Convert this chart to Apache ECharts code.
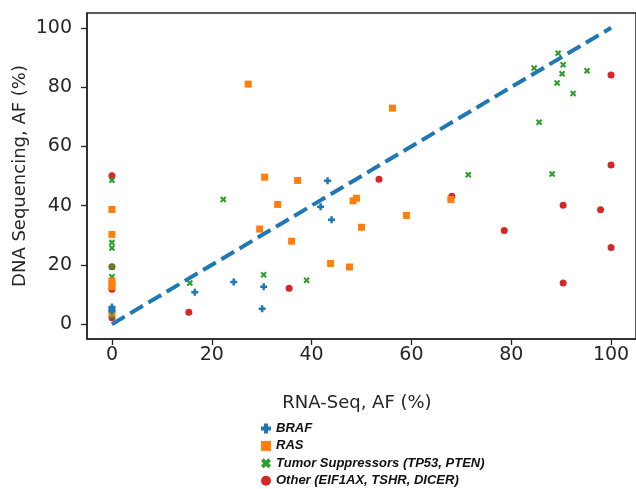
<!DOCTYPE html>
<html>
<head>
<meta charset="utf-8">
<script src="https://cdn.jsdelivr.net/npm/echarts@6/dist/echarts.min.js"></script>
<style>html,body{margin:0;padding:0;background:#fff}#c{width:636px;height:489px}</style>
</head>
<body>
<div id="c"></div>
<script>
// ---- data (RNA-Seq AF %, DNA Sequencing AF %) ----
var brafData = [[0,5.8],[0,5.0],[0,4.4],[16.6,10.8],[24.4,14.2],[30.1,5.2],[30.4,12.6],[41.8,39.6],[43.2,48.4],[44.0,35.2]];
var rasData = [[0,38.7],[0,30.3],[0,14.5],[0,13.5],[0,12.6],[0,3.8],[27.3,81.0],[29.6,32.1],[30.6,49.6],[33.2,40.4],[36.0,28.0],[37.2,48.5],[43.8,20.5],[47.6,19.3],[48.3,41.6],[49.0,42.5],[50.0,32.7],[56.2,72.9],[59.0,36.7],[67.9,42.1]];
var tumorData = [[0,48.6],[0,27.6],[0,25.7],[0,19.4],[0,16.0],[0,2.8],[15.6,13.9],[22.3,42.1],[30.4,16.7],[39.0,14.8],[71.4,50.4],[84.6,86.4],[85.6,68.1],[88.2,50.7],[89.2,81.4],[89.4,91.4],[90.2,84.5],[90.4,87.5],[92.4,77.8],[95.2,85.5]];
var otherData = [[0,50.1],[0,19.4],[0,11.8],[0,2.2],[15.4,4.0],[35.5,12.1],[53.5,48.9],[68.1,43.2],[78.6,31.6],[90.4,40.1],[90.4,13.9],[97.9,38.6],[100,84.1],[100,53.7],[100,25.9]];
var identityLine = [[0,0],[100,100]];
var tickValues = [0,20,40,60,80,100];
var seriesNames = ['BRAF','RAS','Tumor Suppressors (TP53, PTEN)','Other (EIF1AX, TSHR, DICER)'];
var xTitle = 'RNA-Seq, AF (%)';
var yTitle = 'DNA Sequencing, AF (%)';

var plusPath = 'path://M3.2,0L6.8,0L6.8,3.2L10,3.2L10,6.8L6.8,6.8L6.8,10L3.2,10L3.2,6.8L0,6.8L0,3.2L3.2,3.2Z';
var xPath = 'path://M2.3,0L5,2.7L7.7,0L10,2.3L7.3,5L10,7.7L7.7,10L5,7.3L2.3,10L0,7.7L2.7,5L0,2.3Z';
var plusBlob = 'path://M3,0L7,0L7,3L10,3L10,7L7,7L7,10L3,10L3,7L0,7L0,3L3,3Z';
var xBlob = 'path://M2.6,0L5,2.2L7.4,0L10,2.6L7.8,5L10,7.4L7.4,10L5,7.8L2.6,10L0,7.4L2.2,5L0,2.6Z';
var colors = {braf:'#1f77b4', ras:'#ff7f0e', tumor:'#2ca02c', other:'#d62728'};
var axisColor = '#262626';
var font = 'DejaVu Sans';

var chart = echarts.init(document.getElementById('c'), null, {renderer:'canvas'});
function axis(){
  return {
    type:'value', min:-5, max:105,
    axisLine:{show:true, onZero:false, lineStyle:{color:axisColor, width:1.5}},
    axisTick:{show:true, customValues:tickValues, length:6, lineStyle:{color:axisColor, width:1.3}},
    axisLabel:{customValues:tickValues, color:axisColor, fontFamily:font, fontSize:19, margin:8},
    splitLine:{show:false}
  };
}
var xa = axis(); xa.axisLabel.margin = 7;
var ya = axis(); ya.axisLabel.margin = 15;
chart.setOption({
  animation:false,
  backgroundColor:'#fff',
  grid:{left:87, top:13, right:-3, bottom:150, show:true, borderColor:axisColor, borderWidth:1.5, backgroundColor:'transparent'},
  xAxis:xa,
  yAxis:ya,
  legend:{
    orient:'vertical', left:256, top:417, height:90, itemWidth:10, itemHeight:10, itemGap:4.4,
    data:[
      {name:seriesNames[0], icon:plusBlob},
      {name:seriesNames[1], icon:'rect'},
      {name:seriesNames[2], icon:xBlob},
      {name:seriesNames[3], icon:'circle'}
    ],
    textStyle:{color:'#111', fontFamily:'Liberation Sans', fontSize:13, fontWeight:'bold', fontStyle:'italic', lineHeight:13}
  },
  graphic:[
    {type:'text', x:357, y:403, style:{text:xTitle, font:'18px "DejaVu Sans"', fill:axisColor, textAlign:'center', textVerticalAlign:'middle'}},
    {type:'text', x:20, y:176, rotation:Math.PI/2, style:{text:yTitle, font:'18px "DejaVu Sans"', fill:axisColor, textAlign:'center', textVerticalAlign:'middle'}}
  ],
  series:[
    {name:seriesNames[3], type:'scatter', data:otherData, symbol:'circle', symbolSize:7, itemStyle:{color:colors.other, opacity:1}},
    {name:seriesNames[2], type:'scatter', data:tumorData, symbol:xPath, symbolSize:6.5, itemStyle:{color:colors.tumor, opacity:1}},
    {name:seriesNames[1], type:'scatter', data:rasData, symbol:'rect', symbolSize:7, itemStyle:{color:colors.ras, opacity:1}},
    {name:seriesNames[0], type:'scatter', data:brafData, symbol:plusPath, symbolSize:7, itemStyle:{color:colors.braf, opacity:1}},
    {type:'line', data:identityLine, symbol:'none', silent:true, z:5,
     lineStyle:{color:colors.braf, width:4, type:[14.8,6.4], cap:'butt'}}
  ]
});
</script>
</body>
</html>
